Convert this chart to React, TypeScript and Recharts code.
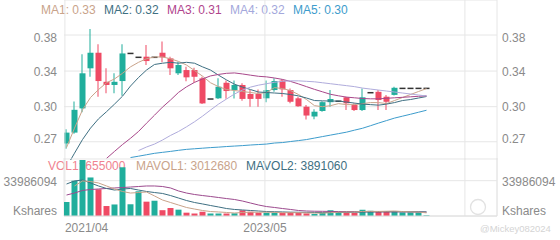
import React from "react";
import {
    ComposedChart,
    Bar,
    Line,
    XAxis,
    YAxis,
    CartesianGrid,
    ReferenceLine,
    Cell,
} from "recharts";

const FONT = "'Liberation Sans', Arial, sans-serif";
const UP = "#20ae9c";
const DOWN = "#ef4a64";
const FLAT = "#333333";
const GRID = "#e6e6e6";
const TICK = "#8a8a8a";

// monthly candles, 2021/04 .. 2025/01
const openP = [
    0.2695, 0.279, 0.3014, 0.3424, 0.3598, 0.328, 0.3247, 0.3288, 0.359, 0.3546,
    0.3553, 0.3546, 0.3598, 0.3534, 0.337, 0.3405, 0.3405, 0.3316, 0.3105, 0.3112,
    0.327, 0.3195, 0.3247, 0.3155, 0.3155, 0.3112, 0.3195, 0.3293, 0.3195, 0.3112,
    0.303, 0.2937, 0.2989, 0.3074, 0.3083, 0.3122, 0.3046, 0.2998, 0.3168, 0.3177,
    0.3128, 0.3146, 0.3212, 0.3212, 0.3212, 0.3212,
];
const closeP = [
    0.279, 0.3, 0.337, 0.3598, 0.3288, 0.3247, 0.328, 0.359, 0.359, 0.3546,
    0.3504, 0.3546, 0.3546, 0.3424, 0.346, 0.3327, 0.3333, 0.3062, 0.3105, 0.3229,
    0.3185, 0.3247, 0.3106, 0.3106, 0.3106, 0.3195, 0.3288, 0.3202, 0.3078, 0.3034,
    0.2946, 0.2982, 0.3074, 0.3105, 0.3083, 0.3063, 0.2998, 0.3122, 0.3168, 0.3095,
    0.3078, 0.3218, 0.3212, 0.3212, 0.3212, 0.3212,
];
const highP = [
    0.282, 0.308, 0.358, 0.388, 0.3696, 0.3424, 0.337, 0.3696, 0.359, 0.3546,
    0.3688, 0.3546, 0.373, 0.3553, 0.3497, 0.344, 0.343, 0.3333, 0.3105, 0.3316,
    0.3293, 0.3293, 0.3266, 0.3195, 0.32, 0.3293, 0.3316, 0.331, 0.3212, 0.3128,
    0.3046, 0.3005, 0.3083, 0.3195, 0.3083, 0.3128, 0.3063, 0.3212, 0.3168, 0.3195,
    0.3146, 0.3228, 0.3212, 0.3212, 0.3212, 0.3212,
];
const lowP = [
    0.265, 0.278, 0.2976, 0.3333, 0.3128, 0.3162, 0.3162, 0.3138, 0.359, 0.3546,
    0.346, 0.3546, 0.349, 0.3351, 0.3351, 0.3287, 0.327, 0.3056, 0.3105, 0.3105,
    0.3107, 0.311, 0.3088, 0.303, 0.303, 0.3074, 0.3177, 0.3128, 0.3063, 0.3029,
    0.2909, 0.2911, 0.2982, 0.303, 0.3083, 0.2998, 0.2989, 0.2989, 0.3168, 0.2998,
    0.2998, 0.3139, 0.3212, 0.3212, 0.3212, 0.3212,
];

const ma1 = [
    0.266, 0.283, 0.3, 0.312, 0.32, 0.327, 0.331, 0.337, 0.344, 0.349,
    0.353, 0.355, 0.355, 0.353, 0.35, 0.346, 0.34, 0.334, 0.327, 0.323,
    0.32, 0.319, 0.318, 0.317, 0.316, 0.317, 0.322, 0.321, 0.319, 0.315,
    0.31, 0.304, 0.303, 0.304, 0.306, 0.305, 0.305, 0.306, 0.307, 0.307,
    0.306, 0.309, 0.312, 0.315, 0.318, 0.321,
];
const ma2 = [
    0.25, 0.2613, 0.2729, 0.283, 0.2915, 0.2982, 0.3055, 0.3133, 0.3236, 0.3325,
    0.3405, 0.3466, 0.348, 0.349, 0.348, 0.349, 0.348, 0.344, 0.3405, 0.335,
    0.33, 0.3255, 0.3225, 0.32, 0.3175, 0.317, 0.3165, 0.316, 0.315, 0.3136,
    0.3115, 0.309, 0.3087, 0.3085, 0.3085, 0.3075, 0.3065, 0.3055, 0.305, 0.3045,
    0.3055, 0.307, 0.309, 0.31, 0.3115, 0.313,
];
const ma3 = [
    null, null, null, null, null, 0.257, 0.2628, 0.2686, 0.274, 0.28,
    0.2875, 0.2949, 0.3026, 0.3095, 0.3171, 0.3228, 0.3274, 0.331, 0.3342, 0.3358,
    0.337, 0.3374, 0.3363, 0.335, 0.3338, 0.3332, 0.332, 0.3305, 0.3284, 0.3258,
    0.323, 0.3202, 0.3177, 0.3152, 0.3137, 0.3124, 0.3117, 0.311, 0.3107, 0.3107,
    0.3112, 0.3117, 0.3122, 0.3127, 0.3132, 0.3137,
];
const ma4 = [
    null, null, null, null, null, null, null, null, null, 0.2635,
    0.2665, 0.269, 0.2725, 0.2765, 0.28, 0.2842, 0.2888, 0.294, 0.2998, 0.3055,
    0.3105, 0.3155, 0.3195, 0.3225, 0.3245, 0.326, 0.3275, 0.3285, 0.329, 0.329,
    0.3285, 0.328, 0.327, 0.326, 0.325, 0.324, 0.323, 0.3215, 0.3205, 0.3195,
    0.3185, 0.3175, 0.3165, 0.3155, 0.3145, 0.3135,
];
const ma5 = [
    null, null, null, null, null, null, null, null, 0.2577, 0.2588,
    0.26, 0.2612, 0.262, 0.2628, 0.2637, 0.2645, 0.265, 0.2655, 0.266, 0.2664,
    0.2669, 0.2673, 0.2677, 0.2682, 0.2686, 0.269, 0.2699, 0.2703, 0.2712, 0.272,
    0.2729, 0.2742, 0.2755, 0.2768, 0.2781, 0.2794, 0.2812, 0.2829, 0.2852, 0.2876,
    0.2899, 0.2922, 0.294, 0.2958, 0.2977, 0.2996,
];

const vol = [
    13.5e6, 34.0e6, 53.9e6, 37.1e6, 25.7e6, 9.6e6, 11.1e6, 46.9e6, 11.3e6, 23.8e6,
    13.8e6, 14.7e6, 5.6e6, 7.7e6, 6.1e6, 3.2e6, 2.4e6, 4.1e6, 2.4e6, 2.4e6,
    2.4e6, 2.6e6, 5.5e6, 4.1e6, 3.2e6, 3.2e6, 3.2e6, 3.0e6, 3.5e6, 3.0e6,
    2.5e6, 2.0e6, 3.0e6, 5.5e6, 4.0e6, 3.5e6, 3.0e6, 6.0e6, 5.0e6, 4.5e6,
    4.5e6, 4.0e6, 3.5e6, 3.5e6, 3.5e6, 655000,
];
const mavol1 = [
    null, 28.9e6, 33.7e6, 33.2e6, 31.8e6, 28.9e6, 26.0e6, 23.6e6, 22.1e6, 22.6e6,
    23.1e6, 19.3e6, 15.4e6, 13.0e6, 10.6e6, 8.2e6, 6.7e6, 5.3e6, 4.3e6, 3.9e6,
    3.4e6, 2.9e6, 3.4e6, 3.6e6, 3.6e6, 3.7e6, 3.5e6, 3.2e6, 3.2e6, 3.2e6,
    3.0e6, 2.8e6, 2.8e6, 3.2e6, 3.6e6, 3.8e6, 3.8e6, 4.4e6, 4.5e6, 4.4e6,
    4.6e6, 4.8e6, 4.3e6, 4.0e6, 3.8e6, 3.01e6,
];
const mavol2 = [
    30.8e6, 33.7e6, 34.7e6, 31.8e6, 28.9e6, 26.5e6, 25.0e6, 26.0e6, 26.5e6, 25.0e6,
    23.6e6, 22.6e6, 21.7e6, 19.7e6, 17.3e6, 14.9e6, 13.0e6, 11.6e6, 10.1e6, 8.7e6,
    7.2e6, 6.3e6, 5.8e6, 5.3e6, 4.8e6, 4.3e6, 4.1e6, 3.9e6, 3.7e6, 3.6e6,
    3.5e6, 3.4e6, 3.3e6, 3.4e6, 3.4e6, 3.5e6, 3.6e6, 3.8e6, 3.9e6, 4.0e6,
    4.1e6, 4.1e6, 4.2e6, 4.1e6, 4.0e6, 3.89e6,
];
const mavol3 = [
    20.2e6, 22.1e6, 24.6e6, 25.5e6, 26.0e6, 26.5e6, 27.0e6, 27.4e6, 27.9e6, 28.4e6,
    28.9e6, 28.9e6, 28.4e6, 27.0e6, 24.1e6, 22.1e6, 20.7e6, 19.7e6, 18.8e6, 17.8e6,
    16.8e6, 15.9e6, 14.4e6, 12.5e6, 10.6e6, 9.1e6, 8.2e6, 7.2e6, 6.3e6, 5.3e6,
    4.8e6, 4.6e6, 4.5e6, 4.4e6, 4.3e6, 4.3e6, 4.2e6, 4.2e6, 4.1e6, 4.1e6,
    4.0e6, 4.0e6, 4.0e6, 3.9e6, 3.9e6, 3.8e6,
];

const priceTicks = [0.271, 0.303, 0.3394, 0.3807];
const priceLabels = ["0.27", "0.30", "0.34", "0.38"];
const volTicks = [0, 33986094];
const volLabels = ["Kshares", "33986094"];
const dateTicks = [-0.2, 24.8, 49.8];
const dateLabels = ["2021/04", "2023/05", ""];

const maLegend = [
    { text: "MA1: 0.33", color: "#c9a38a", left: 41 },
    { text: "MA2: 0.32", color: "#3e6f82", left: 104 },
    { text: "MA3: 0.31", color: "#b0448c", left: 167 },
    { text: "MA4: 0.32", color: "#a4a8dc", left: 230 },
    { text: "MA5: 0.30", color: "#3d9ccc", left: 293 },
];
const volLegend = [
    { text: "VOL1: 655000", color: "#f0828f", left: 48 },
    { text: "MAVOL1: 3012680", color: "#c9a38a", left: 136 },
    { text: "MAVOL2: 3891060", color: "#3e6f82", left: 246 },
];

const X_DOMAIN: [number, number] = [-0.3125, 53.8125];
const P_DOMAIN: [number, number] = [0.2557, 0.4256];
const V_DOMAIN: [number, number] = [0, 55.84e6];

const rows = openP.map((o, i) => ({
    i,
    body: [Math.min(o, closeP[i]), Math.max(o, closeP[i])],
    wick: [lowP[i], highP[i]],
    dir: closeP[i] > o ? 1 : closeP[i] < o ? -1 : 0,
    vol: vol[i],
    ma1: ma1[i],
    ma2: ma2[i],
    ma3: ma3[i],
    ma4: ma4[i],
    ma5: ma5[i],
    mavol1: mavol1[i],
    mavol2: mavol2[i],
    mavol3: mavol3[i],
}));

const candleColor = (dir: number) => (dir > 0 ? UP : dir < 0 ? DOWN : FLAT);

const BodyShape = (props: any) => {
    const { x, y, width, height, payload } = props;
    const top = height < 0 ? y + height : y;
    const h = Math.max(Math.abs(height), payload.dir === 0 ? 1.5 : 1);
    return (
        <rect
            x={x}
            y={payload.dir === 0 ? top - 0.75 : top}
            width={width}
            height={h}
            fill={candleColor(payload.dir)}
        />
    );
};

const PriceTick = (props: any) => {
    const { x, y, payload, textAnchor } = props;
    const k = priceTicks.indexOf(payload.value);
    const dy = k === priceTicks.length - 1 ? 3 : k === 0 ? -2.5 : 0.5;
    return (
        <text
            x={x}
            y={y + dy}
            textAnchor={textAnchor}
            dominantBaseline="central"
            fontSize={12}
            fontFamily={FONT}
            fill={TICK}
        >
            {priceLabels[k]}
        </text>
    );
};

const VolTick = (props: any) => {
    const { x, y, payload, textAnchor } = props;
    const k = volTicks.indexOf(payload.value);
    return (
        <text
            x={x}
            y={y + (k === 0 ? -5 : 1)}
            textAnchor={textAnchor}
            dominantBaseline="central"
            fontSize={12}
            fontFamily={FONT}
            fill={TICK}
        >
            {volLabels[k]}
        </text>
    );
};

const DateTick = (props: any) => {
    const { x, y, payload } = props;
    const k = dateTicks.indexOf(payload.value);
    return (
        <text
            x={x}
            y={y}
            dy="0.71em"
            textAnchor={k === 0 ? "start" : "middle"}
            fontSize={12}
            fontFamily={FONT}
            fill={TICK}
        >
            {dateLabels[k]}
        </text>
    );
};

const legendStyle = (left: number, top: number, color: string): React.CSSProperties => ({
    position: "absolute",
    left,
    top,
    color,
    fontSize: 12,
    lineHeight: "12px",
    fontFamily: FONT,
    whiteSpace: "nowrap",
});

const maLines = [
    { key: "ma1", color: "#c9a38a" },
    { key: "ma2", color: "#3e6f82" },
    { key: "ma3", color: "#a8478a" },
    { key: "ma4", color: "#b0acdc" },
    { key: "ma5", color: "#3d9ccc" },
];

const volLines = [
    { key: "mavol3", color: "#9c4a8e" },
    { key: "mavol2", color: "#3e6f82" },
    { key: "mavol1", color: "#c9a38a" },
];

const App: React.FC = () => {
    return (
        <div
            style={{
                position: "absolute",
                left: 0,
                top: 0,
                width: 560,
                height: 240,
                background: "#fff",
                overflow: "hidden",
                fontFamily: FONT,
            }}
        >
            {maLegend.map((l) => (
                <div key={l.text} style={legendStyle(l.left, 4, l.color)}>
                    {l.text}
                </div>
            ))}
            {volLegend.map((l) => (
                <div key={l.text} style={legendStyle(l.left, 160, l.color)}>
                    {l.text}
                </div>
            ))}
            <div style={{ ...legendStyle(480, 223, "#d4d4d4"), fontSize: 9.5 }}>
                @Mickey082024
            </div>
            <svg
                width={20}
                height={20}
                style={{ position: "absolute", left: 468, top: 197 }}
            >
                <circle cx={10} cy={10} r={7.5} fill="none" stroke="#e2e2e2" strokeWidth={1.3} />
            </svg>

            {/* price pane */}
            <div style={{ position: "absolute", left: 0, top: 0 }}>
                <ComposedChart
                    width={560}
                    height={160}
                    data={rows}
                    margin={{ top: 0, right: 0, bottom: 0, left: 0 }}
                >
                    <XAxis xAxisId="main" type="number" dataKey="i" domain={X_DOMAIN} allowDataOverflow hide />
                    <XAxis xAxisId="w" type="number" dataKey="i" domain={X_DOMAIN} allowDataOverflow hide />
                    <YAxis
                        yAxisId="p"
                        type="number"
                        scale="log"
                        domain={P_DOMAIN}
                        allowDataOverflow
                        ticks={priceTicks}
                        interval={0}
                        width={64}
                        axisLine={false}
                        tickLine={false}
                        tickSize={0}
                        tickMargin={7}
                        tick={PriceTick}
                    />
                    <YAxis
                        yAxisId="p2"
                        orientation="right"
                        type="number"
                        scale="log"
                        domain={P_DOMAIN}
                        allowDataOverflow
                        ticks={priceTicks}
                        interval={0}
                        width={63}
                        axisLine={false}
                        tickLine={false}
                        tickSize={0}
                        tickMargin={5}
                        tick={PriceTick}
                    />
                    <CartesianGrid xAxisId="main" yAxisId="p" vertical={false} stroke={GRID} />
                    {dateTicks.map((t) => (
                        <ReferenceLine key={t} xAxisId="main" yAxisId="p" x={t} stroke={GRID} ifOverflow="visible" />
                    ))}
                    <ReferenceLine xAxisId="main" yAxisId="p" x={X_DOMAIN[1]} stroke={GRID} ifOverflow="visible" />
                    <Bar xAxisId="w" yAxisId="p" dataKey="wick" barSize={1} isAnimationActive={false}>
                        {rows.map((r) => (
                            <Cell key={r.i} fill={candleColor(r.dir)} />
                        ))}
                    </Bar>
                    <Bar
                        xAxisId="main"
                        yAxisId="p"
                        dataKey="body"
                        barSize={6}
                        shape={BodyShape}
                        isAnimationActive={false}
                    />
                    {maLines.map((m) => (
                        <Line
                            key={m.key}
                            xAxisId="main"
                            yAxisId="p"
                            dataKey={m.key}
                            stroke={m.color}
                            strokeWidth={1}
                            dot={false}
                            activeDot={false}
                            isAnimationActive={false}
                        />
                    ))}
                </ComposedChart>
            </div>

            {/* volume pane */}
            <div style={{ position: "absolute", left: 0, top: 158 }}>
                <ComposedChart
                    width={560}
                    height={82}
                    data={rows}
                    margin={{ top: 0, right: 0, bottom: 0, left: 0 }}
                >
                    <XAxis
                        xAxisId="v"
                        type="number"
                        dataKey="i"
                        domain={X_DOMAIN}
                        allowDataOverflow
                        ticks={dateTicks}
                        interval={0}
                        height={24}
                        tickLine={false}
                        tickSize={0}
                        tickMargin={7}
                        axisLine={{ stroke: "#dedede" }}
                        tick={DateTick}
                    />
                    <YAxis
                        yAxisId="vl"
                        type="number"
                        domain={V_DOMAIN}
                        allowDataOverflow
                        ticks={volTicks}
                        interval={0}
                        width={64}
                        axisLine={false}
                        tickLine={false}
                        tickSize={0}
                        tickMargin={7}
                        tick={VolTick}
                    />
                    <YAxis
                        yAxisId="vr"
                        orientation="right"
                        type="number"
                        domain={V_DOMAIN}
                        allowDataOverflow
                        ticks={volTicks}
                        interval={0}
                        width={63}
                        axisLine={false}
                        tickLine={false}
                        tickSize={0}
                        tickMargin={5}
                        tick={VolTick}
                    />
                    <CartesianGrid xAxisId="v" yAxisId="vl" stroke={GRID} />
                    <ReferenceLine xAxisId="v" yAxisId="vl" x={X_DOMAIN[1]} stroke={GRID} ifOverflow="visible" />
                    <Bar xAxisId="v" yAxisId="vl" dataKey="vol" barSize={6} isAnimationActive={false}>
                        {rows.map((r) => (
                            <Cell key={r.i} fill={r.dir < 0 ? DOWN : UP} />
                        ))}
                    </Bar>
                    {volLines.map((m) => (
                        <Line
                            key={m.key}
                            xAxisId="v"
                            yAxisId="vl"
                            dataKey={m.key}
                            stroke={m.color}
                            strokeWidth={1}
                            dot={false}
                            activeDot={false}
                            isAnimationActive={false}
                        />
                    ))}
                </ComposedChart>
            </div>
        </div>
    );
};

export default App;
